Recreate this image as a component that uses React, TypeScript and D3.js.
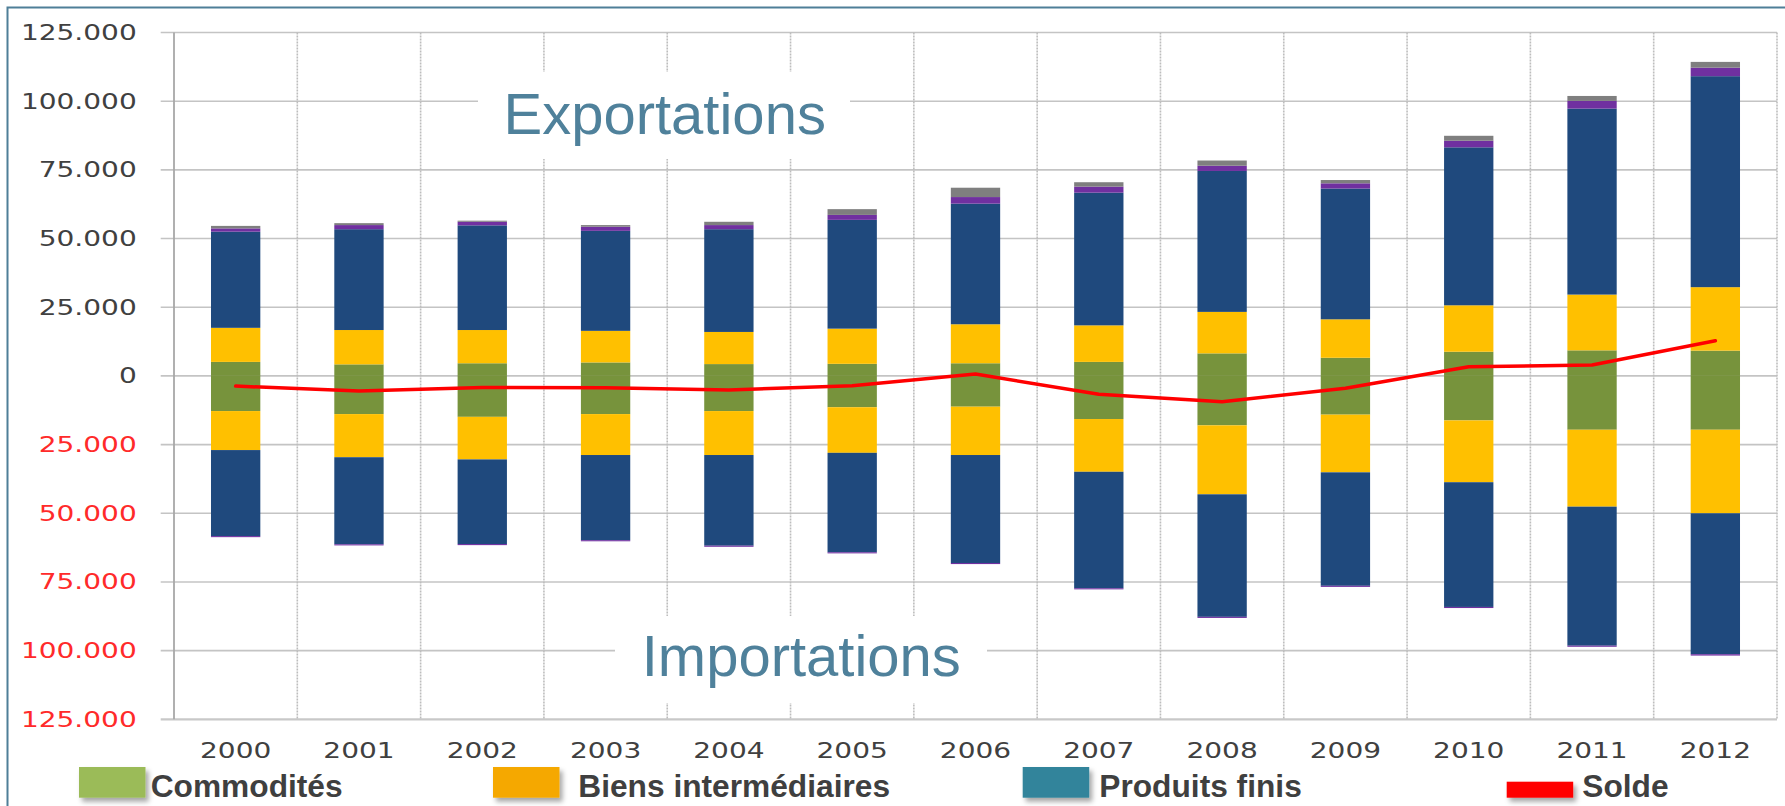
import React from 'react';
import * as d3 from 'd3';

// ---------- DATA ----------
const years = ['2000', '2001', '2002', '2003', '2004', '2005', '2006', '2007', '2008', '2009', '2010', '2011', '2012'];

// Exportations (positive stack)
const expCommodites = [5100, 4200, 4600, 4900, 4300, 4400, 4600, 5100, 8200, 6600, 8800, 9300, 9200];
const expIntermediaires = [12400, 12500, 12100, 11500, 11700, 12800, 14200, 13300, 15100, 14000, 16900, 20300, 23100];
const expFinis = [35000, 36700, 38100, 36400, 37400, 39600, 43900, 48300, 51300, 47600, 57500, 67700, 76800];
const expAutres = [1200, 1500, 1300, 1500, 1500, 1800, 2400, 2200, 1900, 1900, 2400, 2800, 3100];
const expDivers = [900, 700, 400, 600, 1200, 2100, 3400, 1600, 1900, 1200, 1800, 1800, 2100];

// Importations (negative stack, given as magnitudes)
const impCommodites = [12800, 13900, 14900, 13900, 12800, 11400, 11200, 15700, 18000, 14100, 16200, 19600, 19600];
const impIntermediaires = [14200, 15700, 15500, 14900, 16000, 16600, 17600, 19200, 25100, 21000, 22500, 28000, 30400];
const impFinis = [31300, 31700, 30800, 31000, 33000, 36200, 39300, 42400, 44600, 41300, 45400, 50600, 51300];
const impAutres = [400, 400, 400, 400, 400, 400, 400, 400, 400, 400, 400, 400, 500];

// Solde (balance line)
const solde = [-3700, -5500, -4200, -4300, -5100, -3600, 700, -6700, -9400, -4500, 3300, 4000, 12800];

const yTicks = [125000, 100000, 75000, 50000, 25000, 0, -25000, -50000, -75000, -100000, -125000];

const legendItems = [
  { label: 'Commodités', color: '#9BBB59', kind: 'box' },
  { label: 'Biens intermédiaires', color: '#F5A800', kind: 'box' },
  { label: 'Produits finis', color: '#31849B', kind: 'box' },
  { label: 'Solde', color: '#FF0000', kind: 'line' },
];

// ---------- LAYOUT ----------
const W = 1785;
const H = 806;
const plotLeft = 174;
const plotRight = 1777;
const plotTop = 32.5;
const plotBottom = 719.3;

const keys = ['expC', 'expI', 'expF', 'expA', 'expD', 'impC', 'impI', 'impF', 'impA'];
const keyColor: Record<string, string> = {
  expC: '#77933C', impC: '#77933C',
  expI: '#FFC000', impI: '#FFC000',
  expF: '#1F497D', impF: '#1F497D',
  expA: '#7030A0', impA: '#7030A0',
  expD: '#7F7F7F',
};

const fmt = (v: number) => {
  const a = Math.abs(v);
  if (a === 0) return '0';
  return d3.format(',')(a).replace(/,/g, '.');
};

export default function App() {
  const x = d3.scaleBand<string>().domain(years).range([plotLeft, plotRight]).paddingInner(0.6).paddingOuter(0.3);
  const y = d3.scaleLinear().domain([-125000, 125000]).range([plotBottom, plotTop]);
  const step = x.step();
  const bw = x.bandwidth();

  const rows = years.map((yr, i) => ({
    year: yr,
    expC: expCommodites[i],
    expI: expIntermediaires[i],
    expF: expFinis[i],
    expA: expAutres[i],
    expD: expDivers[i],
    impC: -impCommodites[i],
    impI: -impIntermediaires[i],
    impF: -impFinis[i],
    impA: -impAutres[i],
  }));

  const series = d3.stack<any>().keys(keys).offset(d3.stackOffsetDiverging)(rows);

  const boundaries = years.map((_, i) => plotLeft + i * step).slice(1);

  const linePath = d3.line<number>()
    .x((_, i) => (x(years[i]) as number) + bw / 2)
    .y((d) => y(d))(solde) as string;

  const labelFont = 'Verdana, "DejaVu Sans", sans-serif';
  const sx = 1.36;

  const legendX = [79, 493, 1022.7, 1506.7];
  const legendTextX = [150.7, 578.3, 1099.3, 1582.3];

  return (
    <svg width={W} height={H} style={{ position: 'absolute', left: 0, top: 0, background: '#fff' }}>
      <defs>
        <filter id="sh" x="-20%" y="-20%" width="150%" height="180%">
          <feDropShadow dx="3" dy="4" stdDeviation="2.5" floodColor="#000" floodOpacity="0.35" />
        </filter>
      </defs>
      <rect x={0} y={0} width={W} height={H} fill="#fff" />
      {/* outer frame */}
      <rect x={7.5} y={7.5} width={W + 20} height={H + 20} fill="none" stroke="#4F7F98" strokeWidth={2} />

      {/* horizontal gridlines */}
      {yTicks.map((t) => (
        <line key={'h' + t} x1={160.7} x2={plotRight} y1={y(t)} y2={y(t)} stroke={t === -125000 ? '#C8C8C8' : '#C4C4C4'} strokeWidth={t === -125000 ? 2.2 : 1.6} />
      ))}
      {/* vertical gridlines */}
      {boundaries.map((bx, i) => (
        <line key={'v' + i} x1={bx} x2={bx} y1={plotTop} y2={plotBottom} stroke="#BDBDBD" strokeWidth={1.6} strokeDasharray="2 1" />
      ))}
      <line x1={plotRight} x2={plotRight} y1={plotTop} y2={plotBottom} stroke="#BDBDBD" strokeWidth={1.6} strokeDasharray="2 1" />
      <line x1={plotLeft} x2={plotLeft} y1={plotTop} y2={plotBottom} stroke="#A8A8A8" strokeWidth={1.8} />

      {/* white boxes behind big labels */}
      <rect x={478} y={72} width={372} height={87} fill="#fff" />
      <rect x={615} y={616} width={372} height={87} fill="#fff" />
      <text x={664.7} y={134} textAnchor="middle" fontFamily='"Liberation Sans", Arial, sans-serif' fontSize={58} fill="#4F819B">Exportations</text>
      <text x={801.3} y={676} textAnchor="middle" fontFamily='"Liberation Sans", Arial, sans-serif' fontSize={58} fill="#4F819B">Importations</text>

      {/* bars */}
      {series.map((s) => (
        <g key={s.key} fill={keyColor[s.key]}>
          {s.map((d: any, i: number) => {
            const y0 = y(d[0]);
            const y1 = y(d[1]);
            const h = Math.abs(y0 - y1);
            if (h < 0.01) return null;
            return <rect key={i} x={x(years[i])} y={Math.min(y0, y1)} width={bw} height={h} />;
          })}
        </g>
      ))}

      {/* solde line */}
      <path d={linePath} fill="none" stroke="#FF0000" strokeWidth={3.5} strokeLinejoin="round" strokeLinecap="round" />

      {/* y axis labels */}
      {yTicks.map((t) => (
        <g key={'yl' + t} transform={`translate(136.7, ${y(t) + 7.5}) scale(${sx},1)`}>
          <text x={0} y={0} textAnchor="end" fontFamily={labelFont} fontSize={20.6} fill={t < 0 ? '#FF2A2A' : '#404040'}>{fmt(t)}</text>
        </g>
      ))}

      {/* x axis labels */}
      {years.map((yr) => (
        <g key={'xl' + yr} transform={`translate(${(x(yr) as number) + bw / 2}, 758.3) scale(${sx},1)`}>
          <text x={0} y={0} textAnchor="middle" fontFamily={labelFont} fontSize={20.6} fill="#404040">{yr}</text>
        </g>
      ))}

      {/* legend */}
      {legendItems.map((it, i) => (
        <g key={'lg' + i}>
          {it.kind === 'box' ? (
            <rect x={legendX[i]} y={767} width={66.5} height={30.7} fill={it.color} filter="url(#sh)" />
          ) : (
            <rect x={legendX[i]} y={781.7} width={66.5} height={16} fill={it.color} filter="url(#sh)" />
          )}
          <text x={legendTextX[i]} y={797.3} fontFamily='"Liberation Sans", Arial, sans-serif' fontWeight="bold" fontSize={31.7} fill="#3F3F3F">{it.label}</text>
        </g>
      ))}
    </svg>
  );
}
